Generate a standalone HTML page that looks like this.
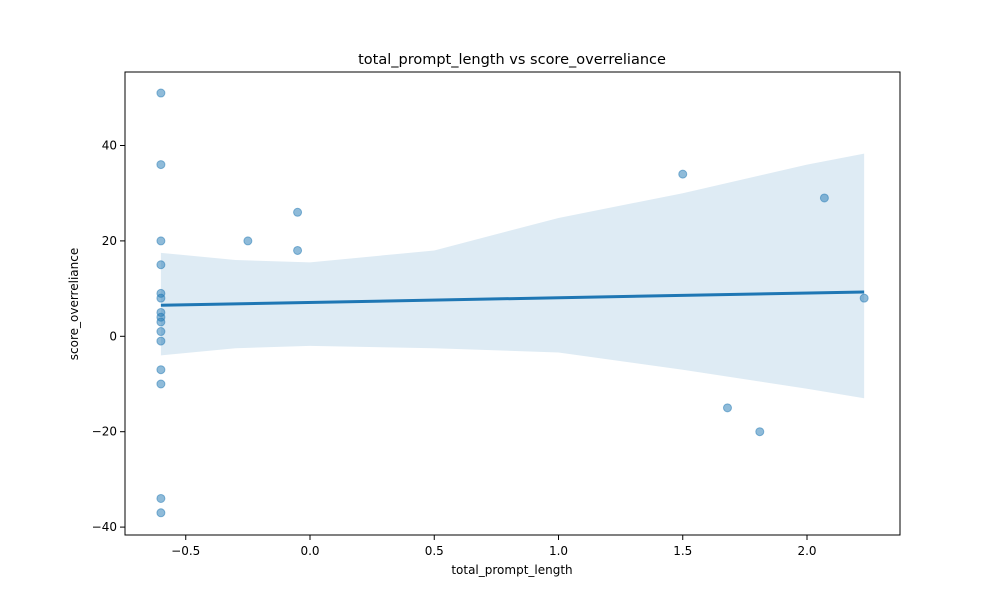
<!DOCTYPE html>
<html><head><meta charset="utf-8"><style>
body{margin:0;background:#fff;font-family:"Liberation Sans","DejaVu Sans",sans-serif}
svg text{font-family:"DejaVu Sans","Liberation Sans",sans-serif;fill:#000}
</style></head><body>
<svg id="chart" width="1000" height="600" xmlns="http://www.w3.org/2000/svg"></svg>
<script>
const pointX = [-0.6,-0.6,-0.6,-0.6,-0.6,-0.6,-0.6,-0.6,-0.6,-0.6,-0.6,-0.6,-0.6,-0.6,-0.6,-0.25,-0.05,-0.05,1.5,1.68,1.81,2.07,2.23];
const pointY = [51,36,20,15,9,8,5,4,3,1,-1,-7,-10,-34,-37,20,26,18,34,-15,-20,29,8];
const lineX = [-0.6, 2.23];
const lineY = [6.5, 9.3];
const bandX = [-0.6,-0.3,0,0.5,1.0,1.5,2.0,2.23];
const bandUpper = [17.5,16,15.5,18,24.8,30,36,38.3];
const bandLower = [-4,-2.5,-2,-2.5,-3.4,-7,-11,-13];
const xTicks = [-0.5,0,0.5,1,1.5,2];
const xTickLabels = ["−0.5","0.0","0.5","1.0","1.5","2.0"];
const yTicks = [-40,-20,0,20,40];
const yTickLabels = ["−40","−20","0","20","40"];

const L=125,R=900,T=72,B=535;
const sx = v => 310 + v*248.5;
const sy = v => 336.3 - v*4.77;
const svg=document.getElementById('chart');
const NS='http://www.w3.org/2000/svg';
function mk(tag,attrs,parent){const e=document.createElementNS(NS,tag);for(const k in attrs)e.setAttribute(k,attrs[k]);(parent||svg).appendChild(e);return e;}

let d='';
bandX.forEach((x,i)=>{d+=(i?'L':'M')+sx(x)+','+sy(bandUpper[i]);});
for(let i=bandX.length-1;i>=0;i--)d+='L'+sx(bandX[i])+','+sy(bandLower[i]);
const band=mk('path',{d:d+'Z',fill:'#1f77b4','fill-opacity':0.15});



pointX.forEach((x,i)=>{
  const c=mk('circle',{cx:sx(x),cy:sy(pointY[i]),r:4,fill:'#1f77b4','fill-opacity':0.5,stroke:'#1f77b4','stroke-opacity':0.5});
  
  
});
const ln=mk('line',{x1:sx(lineX[0]),y1:sy(lineY[0]),x2:sx(lineX[1]),y2:sy(lineY[1]),stroke:'#1f77b4','stroke-width':3});



const frame=mk('rect',{x:L,y:T,width:R-L,height:B-T,fill:'none',stroke:'#000','stroke-width':1});



xTicks.forEach((v,i)=>{
  mk('line',{x1:sx(v),x2:sx(v),y1:B,y2:B+5,stroke:'#000'});
  const t=mk('text',{x:sx(v),y:B+20,'text-anchor':'middle','font-size':12});
  t.textContent=xTickLabels[i];
  
  
});
yTicks.forEach((v,i)=>{
  mk('line',{x1:L-5,x2:L,y1:sy(v),y2:sy(v),stroke:'#000'});
  const t=mk('text',{x:L-8,y:sy(v)+4,'text-anchor':'end','font-size':12});
  t.textContent=yTickLabels[i];
  
  
});
const title=mk('text',{x:512,y:64,'text-anchor':'middle','font-size':14.5});
title.textContent='total_prompt_length vs score_overreliance';


const xl=mk('text',{x:512,y:574,'text-anchor':'middle','font-size':12});
xl.textContent='total_prompt_length';


const yl=mk('text',{x:78,y:304,'text-anchor':'middle','font-size':12,transform:'rotate(-90 78 304)'});
yl.textContent='score_overreliance';


</script>
</body></html>
